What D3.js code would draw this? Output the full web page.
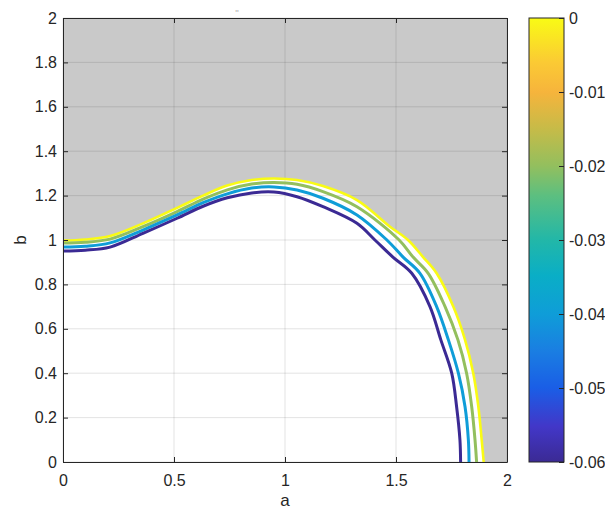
<!DOCTYPE html>
<html>
<head>
<meta charset="utf-8">
<script src="https://cdn.jsdelivr.net/npm/d3@7"></script>
<style>
  body { margin: 0; background: #fff; }
  text { font-family: "Liberation Sans", Arial, sans-serif; }
</style>
</head>
<body>
<div id="chart-area"></div>
<script>
// contour levels and the [a, b] points of each contour
let levels = [0, -0.02, -0.04, -0.06];

let contour0 = [[0, 0.997], [0.1, 1.002], [0.212, 1.018], [0.36, 1.075], [0.514, 1.145], [0.631, 1.2],
    [0.74, 1.245], [0.85, 1.27], [0.95, 1.277], [1.054, 1.27], [1.171, 1.243], [1.324, 1.18],
    [1.473, 1.06], [1.554, 1.0], [1.622, 0.923], [1.683, 0.85], [1.758, 0.7],
    [1.811, 0.55], [1.848, 0.4], [1.871, 0.249], [1.886, 0.099], [1.895, 0]];

let contour02 = [[0, 0.986], [0.1, 0.99], [0.212, 1.004], [0.36, 1.06], [0.514, 1.128], [0.631, 1.184],
    [0.74, 1.226], [0.85, 1.252], [0.95, 1.259], [1.054, 1.251], [1.171, 1.218], [1.324, 1.15],
    [1.514, 1.0], [1.577, 0.923], [1.645, 0.85], [1.721, 0.7], [1.779, 0.55],
    [1.818, 0.4], [1.841, 0.249], [1.856, 0.099], [1.863, 0]];

let contour04 = [[0, 0.968], [0.1, 0.972], [0.212, 0.987], [0.36, 1.045], [0.514, 1.113], [0.631, 1.168],
    [0.74, 1.208], [0.85, 1.234], [0.95, 1.239], [1.054, 1.225], [1.171, 1.188], [1.324, 1.113],
    [1.459, 1.0], [1.532, 0.923], [1.608, 0.85], [1.683, 0.7], [1.736, 0.55],
    [1.781, 0.4], [1.811, 0.249], [1.826, 0.099], [1.829, 0]];

let contour06 = [[0, 0.95], [0.1, 0.954], [0.212, 0.968], [0.36, 1.03], [0.514, 1.098], [0.631, 1.152],
    [0.74, 1.19], [0.85, 1.212], [0.95, 1.216], [1.054, 1.195], [1.171, 1.15], [1.324, 1.075],
    [1.405, 1.0], [1.486, 0.923], [1.571, 0.85], [1.653, 0.7], [1.702, 0.55],
    [1.751, 0.4], [1.773, 0.249], [1.788, 0.099], [1.791, 0]];

let contours = [contour0, contour02, contour04, contour06];

let xTicks = [0, 0.5, 1, 1.5, 2];
let yTicks = [0, 0.2, 0.4, 0.6, 0.8, 1, 1.2, 1.4, 1.6, 1.8, 2];
let cbTicks = [0, -0.01, -0.02, -0.03, -0.04, -0.05, -0.06];

// parula-like colormap stops
let parulaPos = [0, 0.08, 0.167, 0.25, 0.333, 0.42, 0.5, 0.6, 0.667, 0.75, 0.833, 0.9, 1];
let parulaCol = ["#3b2a94", "#4237c8", "#1a5ee6", "#1a7ee2", "#0f9dd8", "#0aaec6", "#22b7a8",
    "#5cbf80", "#93bf5e", "#c6bb48", "#f6b43c", "#fbca34", "#f9fb15"];

let svgW = 605, svgH = 510;
let plot = {left: 63, right: 507, top: 18, bottom: 462};
let cb = {left: 529, right: 564};
let ink = "#262626";

let svg = d3.select("#chart-area")
    .append("svg")
    .attr("width", svgW)
    .attr("height", svgH);

let x = d3.scaleLinear().domain([0, 2]).range([plot.left, plot.right]);
let y = d3.scaleLinear().domain([0, 2]).range([plot.bottom, plot.top]);

let color = d3.scaleLinear()
    .domain(parulaPos.map(p => -0.06 + p * 0.06))
    .range(parulaCol)
    .interpolate(d3.interpolateRgb);

let line = d3.line()
    .x(d => x(d[0]))
    .y(d => y(d[1]))
    .curve(d3.curveCatmullRom.alpha(0.5));

// gray region above the zero contour
svg.append("path")
    .attr("d", line(contour0) + `L${x(2)},${y(0)}L${x(2)},${y(2)}L${x(0)},${y(2)}Z`)
    .attr("fill", "#c9c9c9");

// grid
svg.append("g").selectAll("line").data(xTicks).enter().append("line")
    .attr("x1", d => x(d)).attr("x2", d => x(d))
    .attr("y1", plot.top).attr("y2", plot.bottom)
    .attr("stroke", ink).attr("stroke-opacity", 0.13);
svg.append("g").selectAll("line").data(yTicks).enter().append("line")
    .attr("y1", d => y(d)).attr("y2", d => y(d))
    .attr("x1", plot.left).attr("x2", plot.right)
    .attr("stroke", ink).attr("stroke-opacity", 0.13);

// contour lines
svg.append("g").selectAll("path").data(contours).enter().append("path")
    .attr("d", d => line(d))
    .attr("fill", "none")
    .attr("stroke", (d, i) => color(levels[i]))
    .attr("stroke-width", (d, i) => i === 0 ? 2.6 : 3)
    .attr("stroke-linejoin", "round");

// axes (MATLAB style, ticks pointing in)
function styleAxis(g) {
    g.selectAll("path, line").attr("stroke", ink);
    g.selectAll("text").attr("fill", ink).style("font-size", "16px");
}

svg.append("g")
    .attr("transform", `translate(0,${plot.bottom})`)
    .call(d3.axisBottom(x).tickValues(xTicks).tickFormat(d3.format("")).tickSizeInner(-5).tickSizeOuter(0).tickPadding(13))
    .call(styleAxis);
svg.append("g")
    .attr("transform", `translate(${plot.left},0)`)
    .call(d3.axisLeft(y).tickValues(yTicks).tickFormat(d3.format("")).tickSizeInner(-5).tickSizeOuter(0).tickPadding(6))
    .call(styleAxis);
svg.append("g")
    .attr("transform", `translate(0,${plot.top})`)
    .call(d3.axisTop(x).tickValues(xTicks).tickFormat("").tickSizeInner(-5).tickSizeOuter(0))
    .call(styleAxis);
svg.append("g")
    .attr("transform", `translate(${plot.right},0)`)
    .call(d3.axisRight(y).tickValues(yTicks).tickFormat("").tickSizeInner(-5).tickSizeOuter(0))
    .call(styleAxis);

svg.selectAll(".tick text").attr("font-family", null);

// axis labels
svg.append("text")
    .attr("transform", "translate(26,240) rotate(-90)")
    .attr("text-anchor", "middle")
    .attr("fill", ink)
    .style("font-size", "17px")
    .text("b");
svg.append("text")
    .attr("x", 285).attr("y", 506)
    .attr("text-anchor", "middle")
    .attr("fill", ink)
    .style("font-size", "17px")
    .text("a");

// leftover title marks
svg.append("text")
    .attr("x", 237).attr("y", 16)
    .attr("text-anchor", "middle")
    .attr("fill", "#aaa")
    .style("font-size", "9px")
    .text("''");

// colorbar
let cy = d3.scaleLinear().domain([-0.06, 0]).range([plot.bottom, plot.top]);
let grad = svg.append("defs").append("linearGradient")
    .attr("id", "parula")
    .attr("x1", 0).attr("y1", 1).attr("x2", 0).attr("y2", 0);
grad.selectAll("stop").data(parulaPos).enter().append("stop")
    .attr("offset", d => d)
    .attr("stop-color", (d, i) => parulaCol[i]);

svg.append("rect")
    .attr("x", cb.left).attr("y", plot.top)
    .attr("width", cb.right - cb.left).attr("height", plot.bottom - plot.top)
    .attr("fill", "url(#parula)")
    .attr("stroke", ink).attr("stroke-width", 1);

svg.append("g")
    .attr("transform", `translate(${cb.right},0)`)
    .call(d3.axisRight(cy).tickValues(cbTicks)
        .tickFormat(d => d === 0 ? "0" : d.toFixed(2))
        .tickSizeInner(-5).tickSizeOuter(0).tickPadding(5))
    .call(styleAxis)
    .call(g => g.select(".domain").remove());
</script>
</body>
</html>
